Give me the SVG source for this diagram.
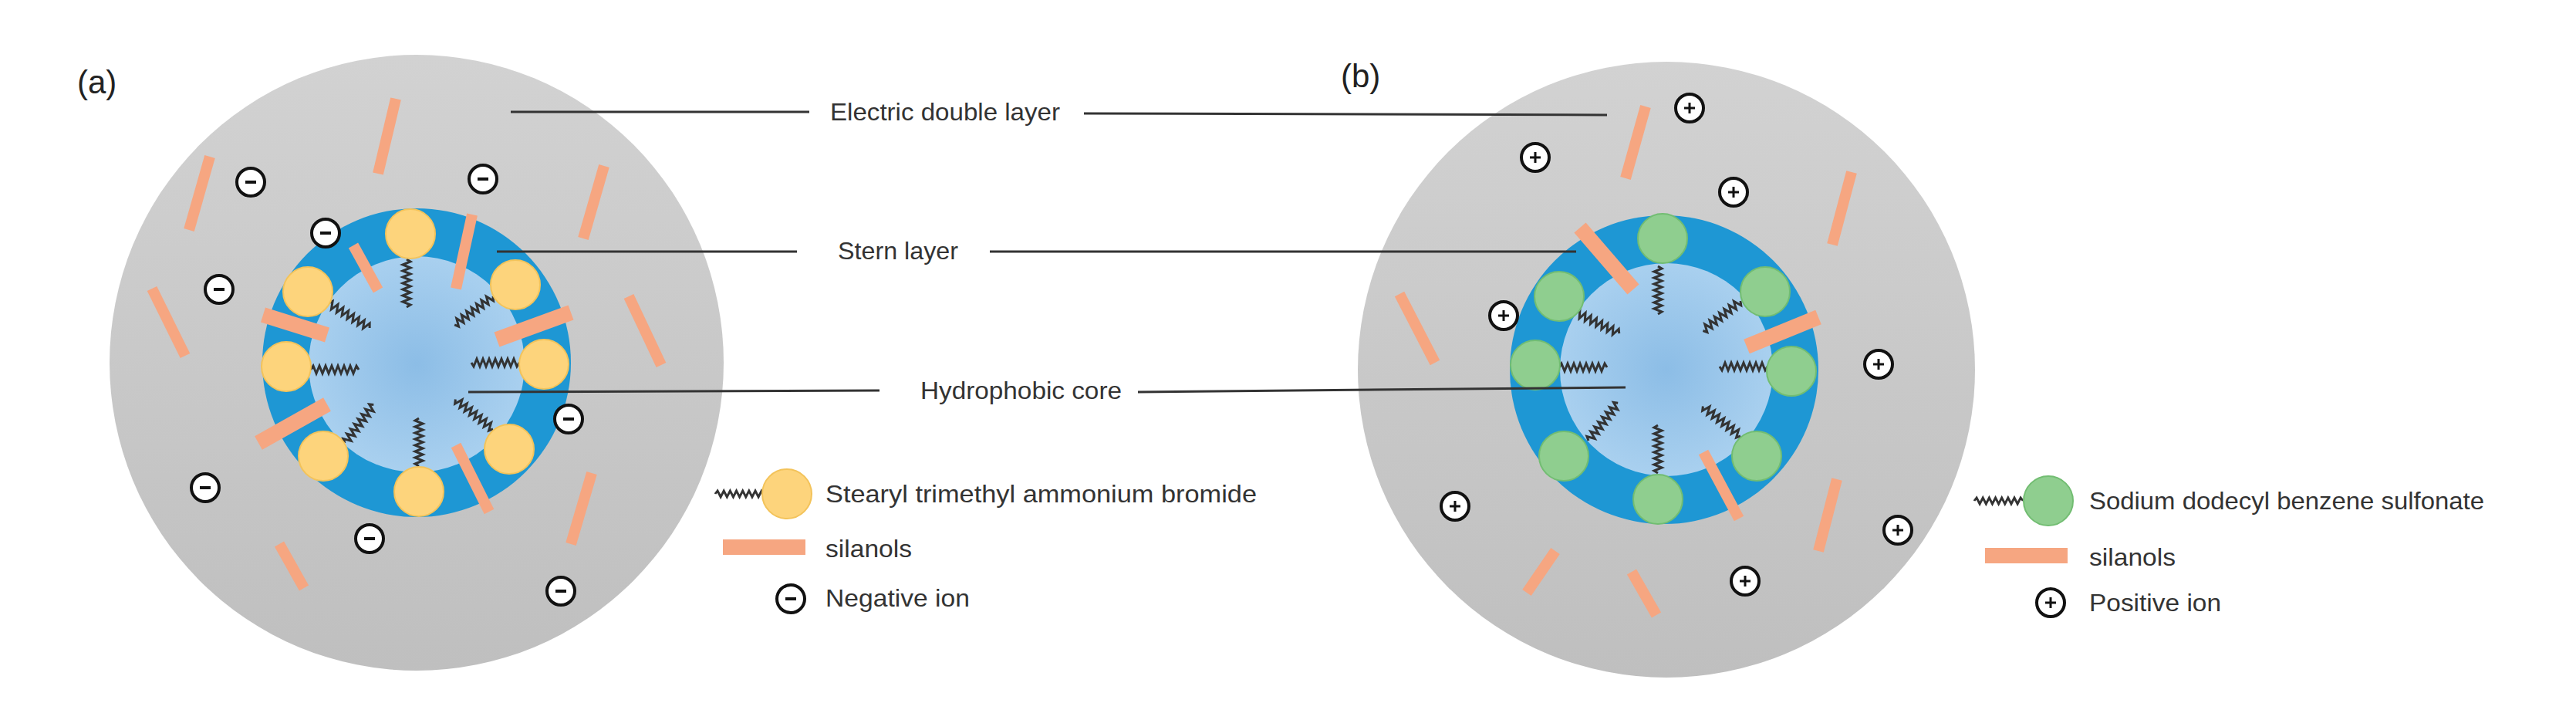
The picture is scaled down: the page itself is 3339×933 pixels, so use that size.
<svg xmlns="http://www.w3.org/2000/svg" xmlns:xlink="http://www.w3.org/1999/xlink" width="3339" height="933" viewBox="0 0 3339 933">
<style>
.lbl{font-family:"Liberation Sans",Arial,sans-serif;font-size:32px;fill:#333;dominant-baseline:central}
.pl{font-family:"Liberation Sans",Arial,sans-serif;font-size:42px;fill:#222;dominant-baseline:central}
.lead{stroke:#333;stroke-width:3;fill:none}
.sil{stroke:#f6a681;stroke-width:14;stroke-linecap:butt}
.silt{stroke:#f6a681;stroke-width:20;stroke-linecap:butt}
.zz{stroke:#333;stroke-width:3;fill:none}
.ring{fill:#1e97d4}
.core{fill:url(#coreG)}
.yel{fill:#fdd47c;stroke:#f3c35a;stroke-width:2}
.grn{fill:#8fce8f;stroke:#72bd72;stroke-width:2}
.outer{fill:url(#outG)}
</style>
<defs>
<linearGradient id="outG" x1="0" y1="0" x2="0" y2="1"><stop offset="0" stop-color="#d2d2d2"/><stop offset="1" stop-color="#bfbfbf"/></linearGradient>
<radialGradient id="coreG"><stop offset="0" stop-color="#8cbde6"/><stop offset="1" stop-color="#a9d0ef"/></radialGradient>
<path id="zz" class="zz" d="M0,0 l3,-5 l4,10 l4,-10 l4,10 l4,-10 l4,10 l4,-10 l4,10 l4,-10 l4,10 l4,-10 l4,10 l4,-10 l4,10 l4,-10 l3,5"/>
<g id="neg"><circle r="18" fill="#fff" stroke="#111" stroke-width="4"/><line x1="-7" y1="0" x2="7" y2="0" stroke="#111" stroke-width="4"/></g>
<g id="pos"><circle r="18" fill="#fff" stroke="#111" stroke-width="4"/><line x1="-7" y1="0" x2="7" y2="0" stroke="#111" stroke-width="3"/><line x1="0" y1="-7" x2="0" y2="7" stroke="#111" stroke-width="3"/></g>
</defs>
<rect width="3339" height="933" fill="#fff"/>

<g id="micelle-a">
<ellipse class="outer" cx="540" cy="470" rx="398" ry="399"/>
<circle class="ring" cx="540" cy="470" r="200"/>
<circle class="core" cx="540" cy="472" r="140"/>
<use href="#zz" transform="translate(527,336) rotate(90)"/>
<use href="#zz" transform="translate(426,393) rotate(31)"/>
<use href="#zz" transform="translate(639,384) rotate(143.5)"/>
<use href="#zz" transform="translate(403,479) rotate(0)"/>
<use href="#zz" transform="translate(673,470) rotate(180)"/>
<use href="#zz" transform="translate(447,574) rotate(-53)"/>
<use href="#zz" transform="translate(639,556) rotate(-141.6)"/>
<use href="#zz" transform="translate(543,604) rotate(-90)"/>
<circle class="yel" cx="532" cy="303" r="32"/>
<circle class="yel" cx="399" cy="378" r="32"/>
<circle class="yel" cx="668" cy="369" r="32"/>
<circle class="yel" cx="371" cy="475" r="32"/>
<circle class="yel" cx="705" cy="472" r="32"/>
<circle class="yel" cx="419" cy="591" r="32"/>
<circle class="yel" cx="660" cy="582" r="32"/>
<circle class="yel" cx="543" cy="637" r="32"/>
<line class="sil" x1="513" y1="128" x2="490" y2="225"/>
<line class="sil" x1="272" y1="203" x2="245" y2="298"/>
<line class="sil" x1="783" y1="215" x2="756" y2="309"/>
<line class="sil" x1="197" y1="374" x2="240" y2="461"/>
<line class="sil" x1="815" y1="384" x2="857" y2="473"/>
<line class="sil" x1="458" y1="318" x2="490" y2="376"/>
<line class="sil" x1="612" y1="278" x2="591" y2="374"/>
<line class="silt" x1="341" y1="408" x2="424" y2="434"/>
<line class="silt" x1="644" y1="440" x2="740" y2="405"/>
<line class="silt" x1="335" y1="574" x2="424" y2="524"/>
<line class="sil" x1="591" y1="577" x2="634" y2="663"/>
<line class="sil" x1="767" y1="613" x2="740" y2="705"/>
<line class="sil" x1="362" y1="705" x2="394" y2="762"/>
<use href="#neg" x="325" y="236"/>
<use href="#neg" x="626" y="232"/>
<use href="#neg" x="422" y="302"/>
<use href="#neg" x="284" y="375"/>
<use href="#neg" x="737" y="543"/>
<use href="#neg" x="266" y="632"/>
<use href="#neg" x="479" y="698"/>
<use href="#neg" x="727" y="766"/>
</g>

<g id="micelle-b">
<ellipse class="outer" cx="2160" cy="479" rx="400" ry="399"/>
<circle class="ring" cx="2157" cy="479" r="200"/>
<circle class="core" cx="2160" cy="479" r="138"/>
<use href="#zz" transform="translate(2149,345) rotate(90)"/>
<use href="#zz" transform="translate(2043,405) rotate(26)"/>
<use href="#zz" transform="translate(2256,390) rotate(141.6)"/>
<use href="#zz" transform="translate(2021,476) rotate(0)"/>
<use href="#zz" transform="translate(2291,475) rotate(180)"/>
<use href="#zz" transform="translate(2059,571) rotate(-52)"/>
<use href="#zz" transform="translate(2256,565) rotate(-141.6)"/>
<use href="#zz" transform="translate(2149,613) rotate(-90)"/>
<circle class="grn" cx="2155" cy="309" r="32"/>
<circle class="grn" cx="2288" cy="378" r="32"/>
<circle class="grn" cx="2021" cy="384" r="32"/>
<circle class="grn" cx="1990" cy="473" r="32"/>
<circle class="grn" cx="2322" cy="481" r="32"/>
<circle class="grn" cx="2027" cy="591" r="32"/>
<circle class="grn" cx="2277" cy="591" r="32"/>
<circle class="grn" cx="2149" cy="647" r="32"/>
<line class="sil" x1="2133" y1="138" x2="2107" y2="231"/>
<line class="sil" x1="2400" y1="223" x2="2375" y2="317"/>
<line class="silt" x1="2048" y1="295" x2="2117" y2="375"/>
<line class="sil" x1="1814" y1="381" x2="1860" y2="470"/>
<line class="silt" x1="2357" y1="411" x2="2264" y2="449"/>
<line class="sil" x1="2208" y1="586" x2="2254" y2="672"/>
<line class="sil" x1="2381" y1="621" x2="2357" y2="714"/>
<line class="sil" x1="2016" y1="714" x2="1979" y2="768"/>
<line class="sil" x1="2115" y1="741" x2="2147" y2="797"/>
<use href="#pos" x="2190" y="140"/>
<use href="#pos" x="1990" y="204"/>
<use href="#pos" x="2247" y="249"/>
<use href="#pos" x="1949" y="409"/>
<use href="#pos" x="2435" y="472"/>
<use href="#pos" x="1886" y="656"/>
<use href="#pos" x="2460" y="687"/>
<use href="#pos" x="2262" y="753"/>
</g>

<g id="connectors">
<line class="lead" x1="662" y1="145" x2="1049" y2="145"/>
<line class="lead" x1="1405" y1="147" x2="2083" y2="149"/>
<line class="lead" x1="644" y1="326" x2="1033" y2="326"/>
<line class="lead" x1="1283" y1="326" x2="2043" y2="326"/>
<line class="lead" x1="607" y1="508" x2="1140" y2="506"/>
<line class="lead" x1="1475" y1="508" x2="2107" y2="502"/>
</g>

<g id="labels">
<text class="pl" x="100" y="106">(a)</text>
<text class="pl" x="1738" y="98">(b)</text>
<text class="lbl" x="1076" y="145" textLength="298" lengthAdjust="spacingAndGlyphs">Electric double layer</text>
<text class="lbl" x="1086" y="325" textLength="156" lengthAdjust="spacingAndGlyphs">Stern layer</text>
<text class="lbl" x="1193" y="506" textLength="261" lengthAdjust="spacingAndGlyphs">Hydrophobic core</text>
</g>

<g id="legend-a">
<use href="#zz" transform="translate(927,640) scale(1.02,0.8)"/>
<circle class="yel" cx="1020" cy="640" r="32"/>
<text class="lbl" x="1070" y="640" textLength="559" lengthAdjust="spacingAndGlyphs">Stearyl trimethyl ammonium bromide</text>
<line class="silt" x1="937" y1="709" x2="1044" y2="709" stroke-width="18"/>
<text class="lbl" x="1070" y="711" textLength="112" lengthAdjust="spacingAndGlyphs">silanols</text>
<use href="#neg" x="1025" y="776"/>
<text class="lbl" x="1070" y="775" textLength="187" lengthAdjust="spacingAndGlyphs">Negative ion</text>
</g>

<g id="legend-b">
<use href="#zz" transform="translate(2559,649) scale(1.02,0.8)"/>
<circle class="grn" cx="2655" cy="649" r="32"/>
<text class="lbl" x="2708" y="649" textLength="512" lengthAdjust="spacingAndGlyphs">Sodium dodecyl benzene sulfonate</text>
<line class="silt" x1="2573" y1="720" x2="2680" y2="720" stroke-width="18"/>
<text class="lbl" x="2708" y="722" textLength="112" lengthAdjust="spacingAndGlyphs">silanols</text>
<use href="#pos" x="2658" y="781"/>
<text class="lbl" x="2708" y="781" textLength="171" lengthAdjust="spacingAndGlyphs">Positive ion</text>
</g>
</svg>
